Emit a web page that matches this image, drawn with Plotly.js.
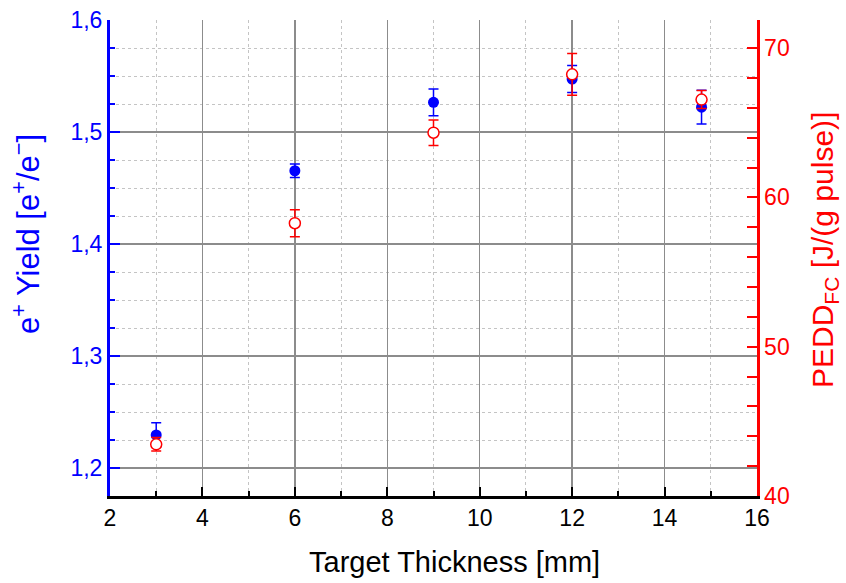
<!DOCTYPE html>
<html>
<head>
<meta charset="utf-8">
<script src="https://cdn.plot.ly/plotly-3.0.1.min.js"></script>
<style>html,body{margin:0;padding:0;background:#fff;}#chart{width:846px;height:583px;}</style>
</head>
<body>
<div id="chart"></div>
<script>
// Data
const thickness = [3, 6, 9, 12, 14.8];               // Target Thickness [mm]
const yieldVals = [1.2295, 1.4654, 1.5265, 1.5473, 1.5222]; // e+ Yield [e+/e-]
const yieldErr  = [0.011, 0.006, 0.012, 0.012, 0.015];
const peddVals  = [43.46, 58.27, 64.33, 68.24, 66.55];     // PEDD_FC [J/(g pulse)]
const peddErr   = [0.45, 0.9, 0.85, 1.4, 0.6];

const xTitle = 'Target Thickness [mm]';
const yTitle = 'e<sup>+</sup> Yield [e<sup>+</sup>/e<sup>\u2212</sup>]';
const y2Title = 'PEDD<sub>FC</sub> [J/(g pulse)]';

const FONT = 'Liberation Sans, Arial, sans-serif';
const BLUE = '#0000ff', RED = '#ff0000';

const traces = [
  {
    x: thickness, y: yieldVals, type: 'scatter', mode: 'markers', yaxis: 'y',
    marker: {color: BLUE, size: 11, symbol: 'circle', line: {width: 0}},
    error_y: {type: 'data', array: yieldErr, visible: true, color: BLUE, thickness: 1.5, width: 5},
    showlegend: false
  },
  {
    x: thickness, y: peddVals, type: 'scatter', mode: 'markers', yaxis: 'y2',
    marker: {color: '#ffffff', size: 11, symbol: 'circle', line: {color: RED, width: 1.5}},
    error_y: {type: 'data', array: peddErr, visible: true, color: RED, thickness: 1.5, width: 5},
    showlegend: false
  }
];

const layout = {
  width: 846, height: 583,
  margin: {l: 110, r: 89, t: 20, b: 87},
  paper_bgcolor: '#ffffff', plot_bgcolor: '#ffffff',
  separators: ',.',
  font: {family: FONT, size: 23, color: '#000'},
  showlegend: false,
  xaxis: {
    range: [2, 16], tickmode: 'linear', tick0: 2, dtick: 2,
    showline: true, linecolor: '#000', linewidth: 2.5,
    ticks: 'inside', ticklen: 9, tickwidth: 2, tickcolor: '#000',
    tickfont: {family: FONT, size: 23, color: '#000'},
    showgrid: true, gridcolor: '#8c8c8c', gridwidth: 1.5,
    zeroline: false,
    minor: {dtick: 1, tick0: 1, ticks: 'inside', ticklen: 5, tickwidth: 2, tickcolor: '#000',
            showgrid: true, gridcolor: '#c4c4c4', griddash: 'dot', gridwidth: 1}
  },
  yaxis: {
    range: [1.175, 1.6], tickmode: 'linear', tick0: 1.2, dtick: 0.1, tickformat: '.1f',
    showline: true, linecolor: BLUE, linewidth: 3,
    ticks: 'inside', ticklen: 10, tickwidth: 2, tickcolor: BLUE,
    tickfont: {family: FONT, size: 23, color: BLUE},
    showgrid: true, gridcolor: '#8c8c8c', gridwidth: 1.5,
    zeroline: false,
    minor: {dtick: 0.025, tick0: 1.2, ticks: 'inside', ticklen: 5, tickwidth: 2, tickcolor: BLUE,
            showgrid: true, gridcolor: '#c4c4c4', griddash: 'dot', gridwidth: 1}
  },
  yaxis2: {
    overlaying: 'y', side: 'right',
    range: [40, 71.88], tickmode: 'linear', tick0: 40, dtick: 10,
    showline: true, linecolor: RED, linewidth: 2.5,
    ticks: 'inside', ticklen: 10, tickwidth: 2, tickcolor: RED,
    tickfont: {family: FONT, size: 23, color: RED},
    showgrid: false, zeroline: false,
    minor: {dtick: 2, tick0: 40, ticks: 'inside', ticklen: 10, tickwidth: 2, tickcolor: RED, showgrid: false}
  },
  shapes: [
    // hide the grid line that falls on the open top edge of the frame
    {type: 'line', xref: 'paper', yref: 'paper', x0: 0, x1: 1, y0: 1, y1: 1,
     line: {color: '#ffffff', width: 2.5}, layer: 'between'}
  ],
  annotations: [
    {text: xTitle, xref: 'paper', yref: 'paper', x: 0.5, y: -0.101, yanchor: 'top', xanchor: 'center',
     xshift: 21, showarrow: false, font: {family: FONT, size: 29, color: '#000'}},
    {text: yTitle, xref: 'paper', yref: 'paper', x: 0, y: 0.5, xanchor: 'center', yanchor: 'middle',
     xshift: -84, yshift: 24, textangle: -90, showarrow: false, font: {family: FONT, size: 31, color: BLUE}},
    {text: y2Title, xref: 'paper', yref: 'paper', x: 1, y: 0.5, xanchor: 'center', yanchor: 'middle',
     xshift: 67, yshift: 8, textangle: -90, showarrow: false, font: {family: FONT, size: 30, color: RED}}
  ]
};

Plotly.newPlot('chart', traces, layout, {displayModeBar: false, staticPlot: true});
</script>
</body>
</html>
